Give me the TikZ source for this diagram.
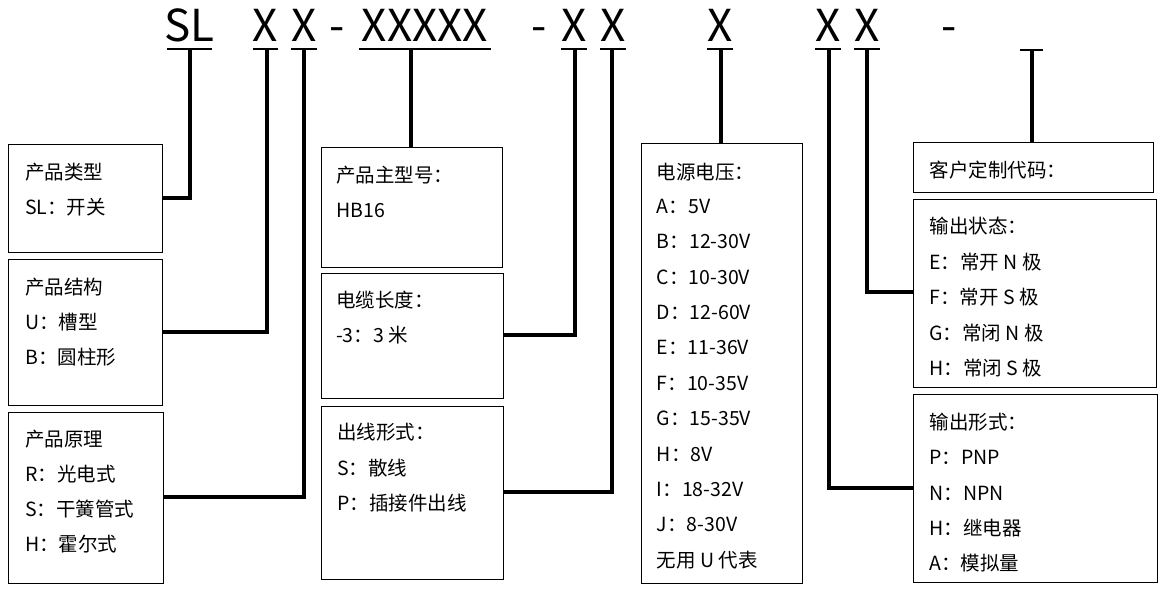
\documentclass[tikz,border=0pt]{standalone}
\usepackage{fontspec}
\setmainfont{Noto Sans CJK SC}
\begin{document}
\begin{tikzpicture}[x=1pt,y=-1pt,
  box/.style={draw, line width=1pt, inner sep=0pt, anchor=north west},
  conn/.style={line width=4pt, line join=miter},
  ul/.style={line width=2.2pt},
  code/.style={font=\fontsize{44}{44}\selectfont, anchor=base, inner sep=0pt},
  txt/.style={font=\fontsize{19.5}{20}\selectfont, anchor=base west, inner sep=0pt}]
\useasboundingbox (0,0) rectangle (1165,592);
% top code
\node[code] (cSL) at (189.5,41.7) {SL};
\node[code] (cX1) at (265.3,41.7) {X};
\node[code] (cX2) at (304,41.7) {X};
\node[code] (cd1) at (336.7,41.7) {-};
\node[code] (cX5) at (425,41.7) {XXXXX};
\node[code] (cd2) at (539.5,41.7) {-};
\node[code] (cX6) at (574,41.7) {X};
\node[code] (cX7) at (612.8,41.7) {X};
\node[code] (cX8) at (720,41.7) {X};
\node[code] (cX9) at (828,41.7) {X};
\node[code] (cX10) at (867,41.7) {X};
\node[code] (cd3) at (949,41.7) {-};
% underlines
\draw[ul] (167,48.7) -- (212,48.7);
\draw[ul] (252.5,48.7) -- (278,48.7);
\draw[ul] (291,48.7) -- (317,48.7);
\draw[ul] (359,48.7) -- (491,48.7);
\draw[ul] (561,48.7) -- (587,48.7);
\draw[ul] (600,48.7) -- (625.6,48.7);
\draw[ul] (707,48.7) -- (732.5,48.7);
\draw[ul] (815,48.7) -- (841,48.7);
\draw[ul] (854,48.7) -- (879.5,48.7);
\draw[ul] (1020,50) -- (1043,50);
\coordinate (u1) at (190,48.7);
\coordinate (u2) at (266.7,48.7);
\coordinate (u3) at (304,48.7);
\coordinate (u4) at (411.4,48.7);
\coordinate (u5) at (575,48.7);
\coordinate (u6) at (612.3,48.7);
\coordinate (u7) at (721,48.7);
\coordinate (u8) at (829,48.7);
\coordinate (u9) at (866.5,48.7);
\coordinate (u10) at (1032,50);
% boxes
\node[box, minimum width=153.4pt, minimum height=108pt] (b1) at (8.3,144.3) {};
\node[box, minimum width=154pt, minimum height=146pt] (b2) at (8.3,259.3) {};
\node[box, minimum width=155pt, minimum height=171pt] (b3) at (8.3,412.3) {};
\node[box, minimum width=181.6pt, minimum height=120pt] (bA) at (320.7,147.3) {};
\node[box, minimum width=182.6pt, minimum height=125pt] (bB) at (320.7,273.3) {};
\node[box, minimum width=182pt, minimum height=173.6pt] (bC) at (321.3,405.7) {};
\node[box, minimum width=161.6pt, minimum height=440pt] (bV) at (640.7,143.3) {};
\node[box, minimum width=240.6pt, minimum height=49.4pt] (bK) at (912.7,142.3) {};
\node[box, minimum width=243pt, minimum height=187.4pt] (bS) at (912.7,199.3) {};
\node[box, minimum width=244pt, minimum height=187.4pt] (bO) at (912.7,394.3) {};
% connectors
\draw[conn] (u1) |- (b1.east |- 0,198.3);
\draw[conn] (u2) |- (b2.east |- 0,332.3);
\draw[conn] (u3) |- (b3.east |- 0,497.3);
\draw[conn] (u4) -- (u4 |- bA.north);
\draw[conn] (u5) |- (bB.east |- 0,335);
\draw[conn] (u6) |- (bC.east |- 0,491.7);
\draw[conn] (u7) -- (u7 |- bV.north);
\draw[conn] (u8) |- (bO.west |- 0,488.3);
\draw[conn] (u9) |- (bS.west |- 0,292);
\draw[conn] (u10) -- (u10 |- bK.north);
% box 1
\node[txt] (t11) at (25,179) {产品类型};
\node[txt] (t12) at (25,214) {SL：开关};
% box 2
\node[txt] (t21) at (25,294) {产品结构};
\node[txt] (t22) at (25,329) {U：槽型};
\node[txt] (t23) at (25,364) {B：圆柱形};
% box 3
\node[txt] (t31) at (25,446.6) {产品原理};
\node[txt] (t32) at (25,481.6) {R：光电式};
\node[txt] (t33) at (25,516.6) {S：干簧管式};
\node[txt] (t34) at (25,551.6) {H：霍尔式};
% box A
\node[txt] (tA1) at (336,182.3) {产品主型号：};
\node[txt] (tA2) at (336,217.3) {HB16};
% box B
\node[txt] (tB1) at (336,307.3) {电缆长度：};
\node[txt] (tB2) at (336,342.3) {-3：3 米};
% box C
\node[txt] (tC1) at (337,439) {出线形式：};
\node[txt] (tC2) at (337,475) {S：散线};
\node[txt] (tC3) at (337,510) {P：插接件出线};
% box V
\node[txt] (tV0) at (656.7,179) {电源电压：};
\node[txt] (tV1) at (656.7,213.3) {A：5V};
\node[txt] (tV2) at (656.7,248.7) {B：12-30V};
\node[txt] (tV3) at (656.7,284.1) {C：10-30V};
\node[txt] (tV4) at (656.7,319.5) {D：12-60V};
\node[txt] (tV5) at (656.7,354.9) {E：11-36V};
\node[txt] (tV6) at (656.7,390.3) {F：10-35V};
\node[txt] (tV7) at (656.7,425.7) {G：15-35V};
\node[txt] (tV8) at (656.7,461.1) {H：8V};
\node[txt] (tV9) at (656.7,496.5) {I：18-32V};
\node[txt] (tV10) at (656.7,531.9) {J：8-30V};
\node[txt] (tV11) at (656.7,567.3) {无用 U 代表};
% box K
\node[txt] (tK1) at (929.3,177.3) {客户定制代码：};
% box S
\node[txt] (tS1) at (929.3,233.3) {输出状态：};
\node[txt] (tS2) at (929.3,269) {E：常开 N 极};
\node[txt] (tS3) at (929.3,304.6) {F：常开 S 极};
\node[txt] (tS4) at (929.3,340) {G：常闭 N 极};
\node[txt] (tS5) at (929.3,375.6) {H：常闭 S 极};
% box O
\node[txt] (tO1) at (929.3,429) {输出形式：};
\node[txt] (tO2) at (929.3,464) {P：PNP};
\node[txt] (tO3) at (929.3,500) {N：NPN};
\node[txt] (tO4) at (929.3,535) {H：继电器};
\node[txt] (tO5) at (929.3,570.6) {A：模拟量};
\end{tikzpicture}
\end{document}
